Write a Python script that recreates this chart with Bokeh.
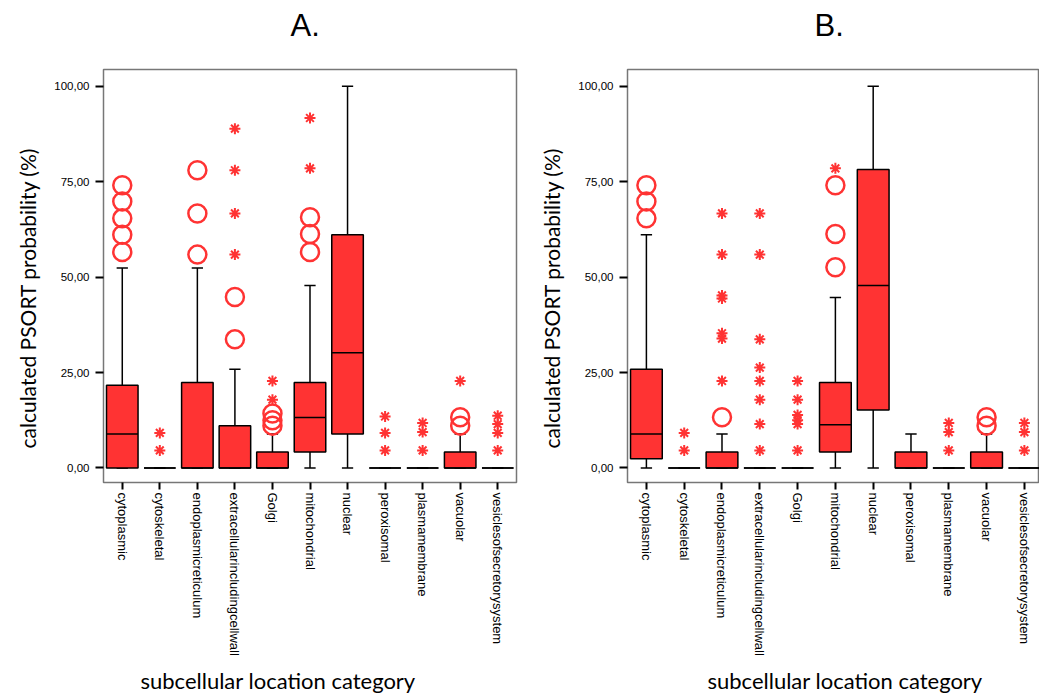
import numpy as np
from bokeh.plotting import figure
from bokeh.layouts import row
from bokeh.models import Range1d, FixedTicker, CustomJSTickFormatter, Title
from bokeh.embed import file_html
from bokeh.resources import INLINE

categories = ["cytoplasmic", "cytoskeletal", "endoplasmicreticulum",
              "extracellularincludingcellwall", "Golgi", "mitochondrial",
              "nuclear", "peroxisomal", "plasmamembrane", "vacuolar",
              "vesiclesofsecretorysystem"]
y_ticks = [0, 25, 50, 75, 100]

# Panel A
A_q1 = [0, 0, 0, 0, 0, 4.2, 8.9, 0, 0, 0, 0]
A_med = [8.9, 0, 0, 0, 0, 13.2, 30.2, 0, 0, 0, 0]
A_q3 = [21.7, 0, 22.4, 11.1, 4.2, 22.4, 61.1, 0, 0, 4.2, 0]
A_lo = [0, 0, 0, 0, 0, 0, 0, 0, 0, 0, 0]
A_hi = [52.4, 0, 52.4, 25.9, 8.9, 47.8, 100, 0, 0, 8.9, 0]
A_circles = {
    "cytoplasmic": [74.1, 69.8, 65.4, 61.1, 56.6],
    "endoplasmicreticulum": [78.0, 66.7, 55.9],
    "extracellularincludingcellwall": [44.8, 33.7],
    "Golgi": [14.3, 12.5, 11.1],
    "mitochondrial": [65.7, 61.3, 56.6],
    "vacuolar": [13.3, 11.1],
}
A_stars = {
    "cytoskeletal": [9.2, 4.6],
    "extracellularincludingcellwall": [88.9, 78.0, 66.7, 55.9],
    "Golgi": [22.8, 17.9],
    "mitochondrial": [91.7, 78.5],
    "peroxisomal": [13.5, 9.2, 4.6],
    "plasmamembrane": [11.8, 9.4, 4.6],
    "vacuolar": [22.8],
    "vesiclesofsecretorysystem": [13.7, 11.5, 9.2, 4.6],
}

# Panel B
B_q1 = [2.4, 0, 0, 0, 0, 4.2, 15.2, 0, 0, 0, 0]
B_med = [8.9, 0, 0, 0, 0, 11.3, 47.8, 0, 0, 0, 0]
B_q3 = [25.9, 0, 4.2, 0, 0, 22.4, 78.2, 4.2, 0, 4.2, 0]
B_lo = [0, 0, 0, 0, 0, 0, 0, 0, 0, 0, 0]
B_hi = [61.1, 0, 8.9, 0, 0, 44.7, 100, 8.9, 0, 8.9, 0]
B_circles = {
    "cytoplasmic": [74.1, 69.8, 65.4],
    "endoplasmicreticulum": [13.3],
    "mitochondrial": [74.1, 61.3, 52.6],
    "vacuolar": [13.3, 11.1],
}
B_stars = {
    "cytoskeletal": [9.2, 4.6],
    "endoplasmicreticulum": [66.7, 55.9, 45.2, 44.4, 35.3, 33.9, 22.8],
    "extracellularincludingcellwall": [66.7, 55.9, 33.7, 26.3, 22.8, 17.9, 11.5, 4.6],
    "Golgi": [22.8, 17.9, 13.9, 12.5, 11.5, 4.6],
    "mitochondrial": [78.5],
    "plasmamembrane": [11.8, 9.4, 4.6],
    "vesiclesofsecretorysystem": [11.8, 9.4, 4.6],
}

RED = "#FF3333"
BOX_W = 0.84
CAP_W = 0.30
LABEL_FONT = "Lato"
TICK_FONT = "Liberation Sans"
Y_LABEL = "calculated PSORT probability (%)"
X_LABEL = "subcellular location category"


def make_panel(title, q1, med, q3, lo, hi, circles, stars, width, left_border,
               right_border, x_end, title_off, xlabel_off):
    n = len(categories)
    xs = np.arange(n) + 0.5
    p = figure(width=width, height=700, output_backend="svg", toolbar_location=None,
               x_range=Range1d(0, x_end), y_range=Range1d(-3.8, 104.4),
               min_border_left=left_border, min_border_right=right_border,
               min_border_top=69, min_border_bottom=216)
    p.xgrid.visible = False
    p.ygrid.visible = False
    p.outline_line_color = "#777777"
    p.outline_line_width = 1.5
    p.background_fill_color = "white"
    p.border_fill_color = "white"

    # spacer between frame and title (keeps the title high)
    p.add_layout(Title(text=" ", text_font_size="1px", standoff=24), "above")

    p.title.text = title
    p.title.align = "left"
    p.title.offset = title_off
    p.title.text_font = TICK_FONT
    p.title.text_font_size = "31px"
    p.title.text_font_style = "normal"
    p.title.text_color = "black"
    p.title.standoff = 0

    # whiskers
    p.segment(x0=xs, y0=q3, x1=xs, y1=hi, line_color="black", line_width=1.5)
    p.segment(x0=xs, y0=lo, x1=xs, y1=q1, line_color="black", line_width=1.5)
    # caps
    p.segment(x0=xs - CAP_W / 2, y0=hi, x1=xs + CAP_W / 2, y1=hi, line_color="black", line_width=1.5)
    p.segment(x0=xs - CAP_W / 2, y0=lo, x1=xs + CAP_W / 2, y1=lo, line_color="black", line_width=1.5)
    # boxes
    p.vbar(x=xs, bottom=q1, top=q3, width=BOX_W, fill_color=RED,
           line_color="black", line_width=1.5)
    # medians
    p.segment(x0=xs - BOX_W / 2, y0=med, x1=xs + BOX_W / 2, y1=med, line_color="black", line_width=1.5)

    cx, cy = [], []
    for c, vals in circles.items():
        i = categories.index(c)
        for v in vals:
            cx.append(xs[i]); cy.append(v)
    p.scatter(x=cx, y=cy, marker="circle", size=18, fill_alpha=0,
              line_color=RED, line_width=2.5)
    sx, sy = [], []
    for c, vals in stars.items():
        i = categories.index(c)
        for v in vals:
            sx.append(xs[i]); sy.append(v)
    p.scatter(x=sx, y=sy, marker="asterisk", size=11, line_color=RED, line_width=2)

    # x axis
    xa = p.xaxis[0]
    xa.ticker = FixedTicker(ticks=list(xs))
    xa.formatter = CustomJSTickFormatter(args=dict(labels=categories),
                                         code="return labels[Math.floor(tick)];")
    xa.major_label_orientation = "vertical"
    xa.major_label_text_font = TICK_FONT
    xa.major_label_text_font_size = "13px"
    xa.major_label_text_color = "black"
    xa.major_label_standoff = 3
    xa.major_tick_in = 0
    xa.major_tick_out = 7
    xa.major_tick_line_width = 2
    xa.major_tick_line_color = "black"
    xa.minor_tick_line_color = None
    xa.axis_line_color = None

    ya = p.yaxis[0]
    ya.ticker = FixedTicker(ticks=y_ticks)
    ya.formatter = CustomJSTickFormatter(code="return tick.toFixed(2).replace('.', ',');")
    ya.major_label_text_font = TICK_FONT
    ya.major_label_text_font_size = "11.5px"
    ya.major_label_text_color = "black"
    ya.major_label_standoff = 6
    ya.major_tick_in = 0
    ya.major_tick_out = 8
    ya.major_tick_line_width = 2
    ya.major_tick_line_color = "black"
    ya.minor_tick_line_color = None
    ya.axis_line_color = None

    p.add_layout(Title(text=Y_LABEL, align="left", offset=34, text_font=LABEL_FONT,
                       text_font_size="21px", text_font_style="normal",
                       text_color="black", standoff=24), "left")
    p.add_layout(Title(text=X_LABEL, align="left", offset=xlabel_off, text_font=LABEL_FONT,
                       text_font_size="22px", text_font_style="normal",
                       text_color="black", standoff=13), "below")
    return p


pA = make_panel("A.", A_q1, A_med, A_q3, A_lo, A_hi, A_circles, A_stars,
                width=520, left_border=101, right_border=4, x_end=11.0,
                title_off=187, xlabel_off=37)
pB = make_panel("B.", B_q1, B_med, B_q3, B_lo, B_hi, B_circles, B_stars,
                width=519, left_border=107, right_border=0, x_end=10.9,
                title_off=187, xlabel_off=80)

layout = row(pA, pB)
open("out.html", "w").write(file_html(layout, INLINE))
